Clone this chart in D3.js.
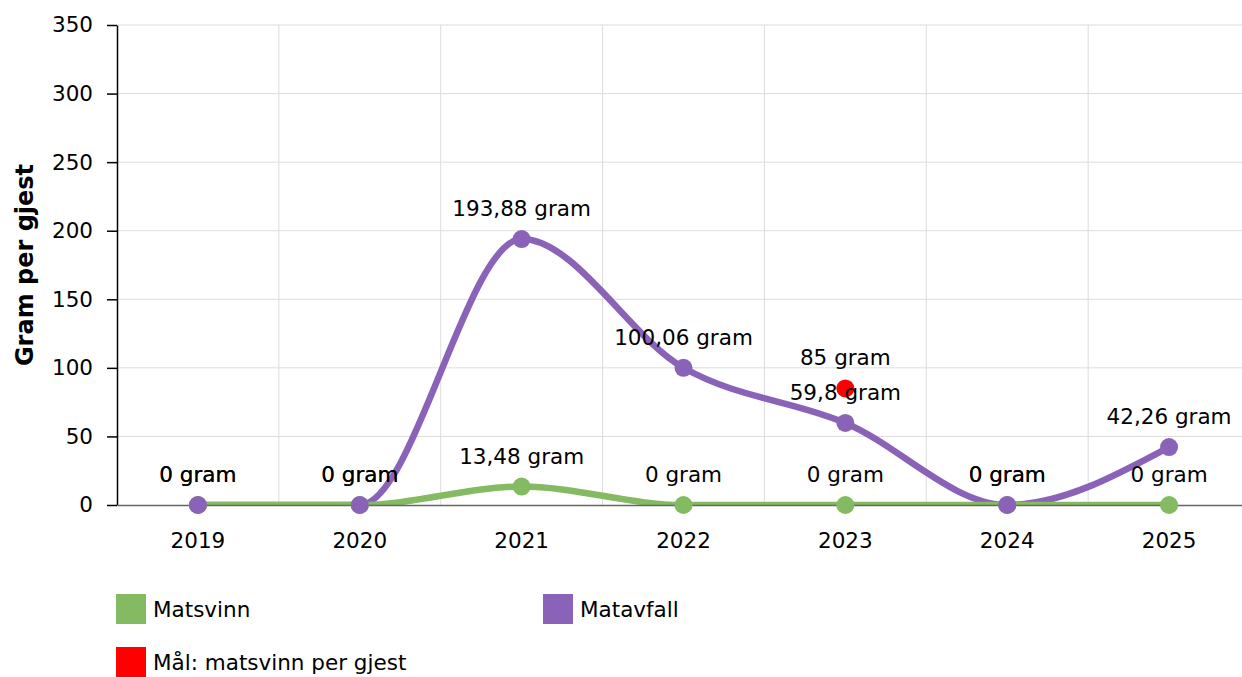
<!DOCTYPE html>
<html><head><meta charset="utf-8">
<script src="https://cdn.jsdelivr.net/npm/d3@7"></script>
<style>body{margin:0;background:#fff;} svg{display:block;font-family:"DejaVu Sans",Verdana,sans-serif;}</style>
</head><body>
<script>
const years = ["2019","2020","2021","2022","2023","2024","2025"];
const matsvinn = [0, 0, 13.48, 0, 0, 0, 0];
const matavfall = [0, 0, 193.88, 100.06, 59.8, 0, 42.26];
const maal = [null, null, null, null, 85, null, null];
const yTicks = [0, 50, 100, 150, 200, 250, 300, 350];
const seriesNames = ["Matsvinn", "Matavfall", "Mål: matsvinn per gjest"];
const colors = {green: "#84bb62", purple: "#8a63b9", red: "#ff0000"};

const W = 1242, H = 677;
const m = {left: 117, right: 1250, top: 25, bottom: 505};
const FS = 21.5;
const svg = d3.select("body").append("svg").attr("width", W).attr("height", H);

svg.append("defs").append("clipPath").attr("id", "plotclip").append("rect")
  .attr("x", m.left).attr("y", m.top - 10).attr("width", m.right - m.left).attr("height", m.bottom - m.top + 10);

const x = d3.scaleBand().domain(years).range([m.left, m.right]);
const y = d3.scaleLinear().domain([0, 350]).range([m.bottom, m.top]);
const cx = d => x(d) + x.bandwidth() / 2;
const fmt = v => String(v).replace(".", ",") + " gram";

// grid
svg.append("g").selectAll("line").data(yTicks.slice(1)).join("line")
  .attr("x1", m.left).attr("x2", m.right).attr("y1", d => y(d)).attr("y2", d => y(d))
  .attr("stroke", "#dcdcdc").attr("stroke-width", 1);
svg.append("g").selectAll("line").data(years.slice(1)).join("line")
  .attr("x1", d => x(d)).attr("x2", d => x(d)).attr("y1", m.top).attr("y2", m.bottom)
  .attr("stroke", "#dcdcdc").attr("stroke-width", 1);

const line = d3.line().x((d, i) => cx(years[i])).y(d => y(d)).curve(d3.curveMonotoneX);
function drawSeries(vals, color) {
  svg.append("path").datum(vals).attr("d", line).attr("fill", "none")
    .attr("clip-path", "url(#plotclip)")
    .attr("stroke", color).attr("stroke-width", 6.5);
}
drawSeries(matavfall, colors.purple);
drawSeries(matsvinn, colors.green);

// y axis
const yAxis = svg.append("g").attr("transform", `translate(${m.left},0)`)
  .call(d3.axisLeft(y).tickValues(yTicks).tickSize(10).tickSizeOuter(0).tickPadding(14));
yAxis.select(".domain").attr("stroke", "#000").attr("stroke-width", 1.5);
yAxis.selectAll(".tick line").attr("stroke", "#000").attr("stroke-width", 1.5);
yAxis.selectAll("text").attr("font-size", FS).attr("fill", "#000").attr("font-family", '"DejaVu Sans",Verdana,sans-serif');

// x axis
const xAxis = svg.append("g").attr("transform", `translate(0,${m.bottom})`)
  .call(d3.axisBottom(x).tickSize(0).tickPadding(28));
xAxis.select(".domain").attr("stroke", "#666").attr("stroke-width", 1.5);
xAxis.selectAll("text").attr("font-size", FS).attr("fill", "#000").attr("font-family", '"DejaVu Sans",Verdana,sans-serif');

// y title
svg.append("text").attr("transform", `translate(33,${(m.top + m.bottom) / 2}) rotate(-90)`)
  .attr("text-anchor", "middle").attr("font-size", 24).attr("font-weight", "bold").text("Gram per gjest");

function drawPoints(vals, color) {
  svg.append("g").selectAll("circle").data(vals.map((v, i) => ({v, i})).filter(d => d.v != null)).join("circle")
    .attr("cx", d => cx(years[d.i])).attr("cy", d => y(d.v)).attr("r", 9).attr("fill", color);
}
function drawLabels(vals) {
  svg.append("g").selectAll("text").data(vals.map((v, i) => ({v, i})).filter(d => d.v != null)).join("text")
    .attr("x", d => cx(years[d.i])).attr("y", d => y(d.v) - 23)
    .attr("text-anchor", "middle").attr("font-size", FS).attr("fill", "#000").text(d => fmt(d.v));
}

drawPoints(matsvinn, colors.green);
drawPoints(matavfall, colors.purple);
drawPoints(maal, colors.red);
drawLabels(matsvinn);
drawLabels(matavfall);
drawLabels(maal);

// legend
const legendItems = [
  {name: seriesNames[0], color: colors.green, x: 116, y: 594},
  {name: seriesNames[1], color: colors.purple, x: 543, y: 594},
  {name: seriesNames[2], color: colors.red, x: 116, y: 647}
];
const lg = svg.append("g").selectAll("g").data(legendItems).join("g")
  .attr("transform", d => `translate(${d.x},${d.y})`);
lg.append("rect").attr("width", 30).attr("height", 30).attr("fill", d => d.color);
lg.append("text").attr("x", 37).attr("y", 23).attr("font-size", FS).attr("fill", "#000").text(d => d.name);
</script>
</body></html>
